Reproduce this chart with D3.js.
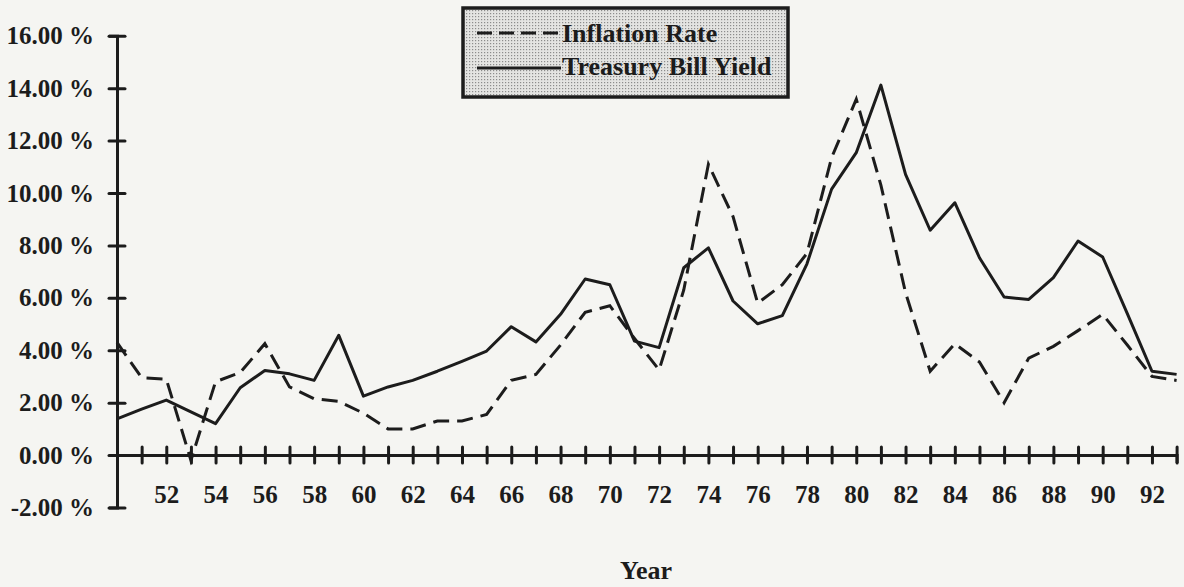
<!DOCTYPE html>
<html>
<head>
<meta charset="utf-8">
<script src="https://cdn.jsdelivr.net/npm/d3@7/dist/d3.min.js"></script>
<style>
  html, body { margin: 0; padding: 0; background: #f5f5f2; }
  svg { display: block; }
  text { font-family: "Liberation Serif", "Times New Roman", serif; font-weight: bold; fill: #1c1c1c; }
</style>
</head>
<body>
<div id="chart"></div>
<script>
// chart values
var years = d3.range(1950, 1994);
var inflationRate = [4.3, 2.95, 2.9, -0.2, 2.8, 3.15, 4.25, 2.6, 2.15, 2.05,
  1.6, 1.0, 1.0, 1.3, 1.3, 1.55, 2.85, 3.08, 4.2, 5.45,
  5.7, 4.45, 3.25, 6.3, 11.1, 9.1, 5.8, 6.5, 7.7, 11.35,
  13.58, 10.3, 6.2, 3.2, 4.25, 3.55, 2.0, 3.7, 4.15, 4.75,
  5.37, 4.2, 3.0, 2.85];
var tbillYield = [1.38, 1.75, 2.1, 1.65, 1.2, 2.57, 3.23, 3.1, 2.85, 4.57,
  2.25, 2.6, 2.85, 3.2, 3.58, 3.97, 4.9, 4.32, 5.37, 6.72,
  6.5, 4.35, 4.1, 7.15, 7.91, 5.88, 5.01, 5.32, 7.3, 10.15,
  11.54, 14.12, 10.71, 8.58, 9.63, 7.53, 6.03, 5.94, 6.77, 8.17,
  7.56, 5.4, 3.2, 3.08];
var yTicks = [-2, 0, 2, 4, 6, 8, 10, 12, 14, 16];
var xTickYears = d3.range(1951, 1994);
var seriesNames = ["Inflation Rate", "Treasury Bill Yield"];

var width = 1184;
var height = 587;
var ink = "#1c1c1c";

var svg = d3.select("#chart")
  .append("svg")
  .attr("width", width)
  .attr("height", height);

// stipple fill for the legend box
var defs = svg.append("defs");
var pat = defs.append("pattern")
  .attr("id", "stipple")
  .attr("width", 3).attr("height", 3)
  .attr("patternUnits", "userSpaceOnUse");
pat.append("rect").attr("width", 3).attr("height", 3).attr("fill", "#e4e4e2");
pat.append("rect").attr("x", 1).attr("y", 1).attr("width", 1.2).attr("height", 1.2).attr("fill", "#8c8c8c");

var x = d3.scaleLinear().domain([1950, 1993]).range([117, 1176.6]);
var y = d3.scaleLinear().domain([-2, 16]).range([507.5, 35.8]);

// y axis
var yAxis = svg.append("g")
  .attr("transform", "translate(" + x(1950) + ",0)")
  .call(d3.axisLeft(y)
    .tickValues(yTicks)
    .tickSizeOuter(0)
    .tickSize(8)
    .tickPadding(15)
    .tickFormat(function(d) { return d.toFixed(2) + " %"; }));
yAxis.select(".domain").attr("stroke", ink).attr("stroke-width", 3);
yAxis.selectAll(".tick line").attr("x1", -8).attr("x2", 8)
  .attr("stroke", ink).attr("stroke-width", 3).attr("stroke-linecap", "round");
yAxis.selectAll(".tick text").style("font-size", "25px").attr("fill", ink);

// x axis at zero
var xAxis = svg.append("g")
  .attr("transform", "translate(0," + y(0) + ")")
  .call(d3.axisBottom(x)
    .tickValues(xTickYears)
    .tickSizeOuter(0)
    .tickSize(8)
    .tickFormat(function(d) { return d % 2 === 0 && d < 1993 ? String(d).slice(2) : ""; }));
xAxis.select(".domain").attr("stroke", ink).attr("stroke-width", 3);
xAxis.selectAll(".tick line").attr("y1", -8).attr("y2", 8)
  .attr("stroke", ink).attr("stroke-width", 3).attr("stroke-linecap", "round");
xAxis.selectAll(".tick text")
  .style("font-size", "25px")
  .attr("fill", ink)
  .attr("y", 48).attr("dy", 0);

// lines
var line = d3.line()
  .x(function(d) { return x(d[0]); })
  .y(function(d) { return y(d[1]); });

svg.append("path")
  .datum(d3.zip(years, tbillYield))
  .attr("fill", "none")
  .attr("stroke", ink)
  .attr("stroke-width", 3)
  .attr("stroke-linejoin", "round")
  .attr("d", line);

svg.append("path")
  .datum(d3.zip(years, inflationRate))
  .attr("fill", "none")
  .attr("stroke", ink)
  .attr("stroke-width", 3)
  .attr("stroke-dasharray", "16,8")
  .attr("d", line);

// axis title
svg.append("text")
  .attr("x", 646)
  .attr("y", 579)
  .attr("text-anchor", "middle")
  .style("font-size", "26px")
  .text("Year");

// legend
var legend = svg.append("g");
legend.append("rect")
  .attr("x", 463).attr("y", 8)
  .attr("width", 325).attr("height", 89)
  .attr("fill", "url(#stipple)")
  .attr("stroke", ink)
  .attr("stroke-width", 3.5);

var legRows = [
  { name: seriesNames[0], dash: "15,7", ly: 33, ty: 42 },
  { name: seriesNames[1], dash: null, ly: 68, ty: 75 }
];
legRows.forEach(function(r) {
  legend.append("line")
    .attr("x1", 477).attr("x2", 561)
    .attr("y1", r.ly).attr("y2", r.ly)
    .attr("stroke", ink)
    .attr("stroke-width", 3)
    .attr("stroke-dasharray", r.dash);
  legend.append("text")
    .attr("x", 562)
    .attr("y", r.ty)
    .style("font-size", "26px")
    .text(r.name);
});
</script>
</body>
</html>
